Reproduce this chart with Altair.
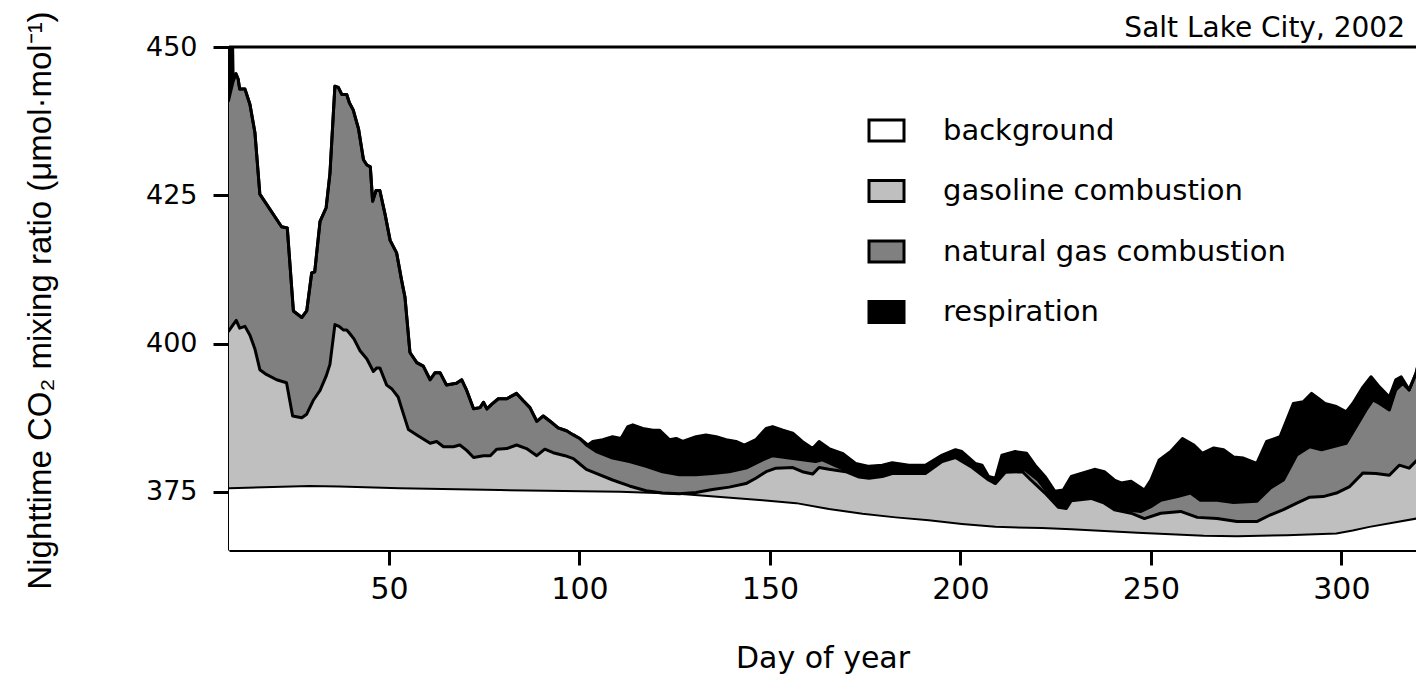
import altair as alt
import pandas as pd

# ---- data ----
series_names = ["background", "gasoline combustion", "natural gas combustion", "respiration"]
fill_colors = ["#ffffff", "#bfbfbf", "#808080", "#000000"]

bg_days = [7.8, 29.2, 37, 52.8, 79, 110.6, 126, 148.1, 156.9, 165.5, 174.3, 183, 191.7,
           200.4, 209.2, 221.4, 229.1, 246.5, 263.9, 272.6, 285.7, 298.7, 303, 307.4, 322.3]
bg_vals = [375.6, 376, 375.9, 375.6, 375.3, 375, 374.7, 373.6, 373.1, 372.1, 371.3, 370.7, 370.2,
           369.6, 369.1, 368.9, 368.7, 368.1, 367.6, 367.5, 367.7, 368, 368.5, 369.1, 370.8]

gas_days = [7.8, 9.1, 9.9, 10.8, 12.2, 13.5, 14.8, 16.1, 17.8, 20.5, 23.1, 24.7, 27.1, 28.4, 30.1,
            31.9, 33.5, 34.5, 35.8, 36.9, 38, 38.9, 39.7, 40.8, 42.4, 44.2, 45.9, 46.8, 47.6, 49.4,
            50.7, 52.4, 53.8, 55.1, 57.3, 60.8, 62.5, 64.3, 66.9, 68.6, 70.4, 72.2, 74.8, 76.6, 78.3,
            80.9, 83.5, 86.1, 88.8, 90.9, 93.1, 96.2, 98.4, 100.1, 101.8, 104.4, 108.7, 113.1, 117.5,
            121.8, 126.2, 130.6, 134.9, 139.3, 143.7, 146.3, 149, 151.6, 156, 158.5, 161.2, 162.9,
            165.5, 169.9, 173.4, 176, 179.5, 182.1, 190.8, 195.2, 198.7, 203.1, 207.4, 209.2, 211.8,
            216.3, 218.5, 222.2, 225.7, 227.8, 229.1, 234.3, 237.8, 240.4, 244.8, 248.3, 252.6, 257.8,
            262.2, 267.4, 272.6, 277.8, 281.3, 284.8, 288.3, 291.7, 295.2, 298.7, 302.2, 305.7, 309.1,
            312.6, 315.2, 317.8, 320.4, 322.3]
gas_vals = [402, 403.2, 403.9, 402.6, 402.9, 401.4, 399.1, 395.6, 394.8, 393.9, 393.4, 387.8, 387.5, 388.1, 390.4,
            392.1, 394.5, 396.5, 403.2, 402.9, 402.3, 402.3, 401.7, 400.8, 398.8, 397.4, 395.3, 395.9, 395.9, 393,
            392.4, 391, 388.1, 385.5, 384.6, 383.2, 383.5, 382.6, 382.6, 382.9, 382, 380.8, 381.1, 381.1, 382.2,
            382.3, 382.9, 382.3, 381.1, 382.2, 381.6, 381.1, 380.6, 379.7, 378.8, 378.1, 377, 376, 375.2,
            374.8, 374.7, 374.9, 375.4, 375.8, 376.4, 377.3, 378.4, 379, 379.1, 378.4, 378, 379.1,
            378.8, 378.4, 377.5, 377.3, 377.6, 378.1, 378.1, 380.1, 380.8, 379.1, 377, 376.4, 378.3,
            378.4, 377, 374.8, 372.4, 372.2, 373.5, 373.9, 373.1, 372, 371.4, 370.5, 371.4, 371.7,
            370.7, 370.5, 370, 370, 371.1, 372, 373.1, 374.1, 374.2, 374.8, 375.9, 378.2, 378.1,
            377.8, 379.5, 379, 380.7, 382.1]

ng_days = [7.8, 9.1, 9.8, 10.4, 10.8, 12.2, 13.5, 14.8, 16.1, 21.8, 23.3, 24.9, 27.1, 28.4, 29.7,
           30.5, 31.9, 33.5, 34.5, 35.8, 36.7, 37.6, 38.9, 39.6, 40.6, 42, 43.3, 44.2, 45.1, 45.7,
           46.6, 47.6, 49, 50.3, 52, 53.3, 54.2, 55.5, 57.3, 59, 60.8, 62.1, 63.4, 65.1, 67.7, 69.1,
           70.4, 72.2, 73.9, 74.8, 75.7, 77, 78.7, 80.9, 83.5, 85.2, 87, 88.8, 90.5, 92.3, 94.4, 96.6,
           98.4, 100.1, 101.8, 104.4, 108.7, 113.1, 117.5, 121.8, 126.2, 130.6, 134.9, 139.3, 143.7,
           148.1, 150.7, 155, 158.5, 162, 163.8, 167.3, 170.8, 173.4, 176, 179.5, 183, 190.8, 195.2,
           198.7, 203.1, 207.4, 209.2, 211.8, 217, 220.4, 223, 225.7, 227.8, 229.1, 234.3, 237, 239.6,
           243, 247.4, 250, 252.6, 257, 260.4, 263, 267.4, 271.7, 277.8, 281.3, 284.8, 288.3, 291.7,
           294.8, 297.8, 301.3, 303.9, 306.5, 308.3, 310, 312.6, 314.3, 316.1, 317.8, 319.6, 321.3, 322.3]
ng_vals = [440.8, 444.3, 445.5, 444.6, 442.9, 442.9, 440.3, 435.6, 425.2, 419.7, 419.5, 405.5, 404.4, 405.5, 411.9,
           412.1, 420.6, 422.9, 428.7, 443.4, 443.2, 442, 442, 440.6, 439.4, 436.2, 431, 430.1, 429.8, 424,
           425.8, 425.8, 421.7, 417.4, 415.3, 410.7, 407.8, 398.5, 396.8, 396.2, 393.9, 395.1, 395.1, 393, 393.3, 393.9,
           392.1, 389, 389.2, 390.1, 389, 389.8, 390.7, 390.7, 391.6, 390.4, 389.2, 386.9, 387.8, 386.9, 385.8, 385.3,
           384.6, 384, 382.9, 381.8, 380.7, 380.1, 379.3, 378.4, 377.9, 377.9, 378.1, 378.4, 379,
           380.4, 381.1, 380.7, 380.4, 380.1, 380.4, 379.4, 378.4, 377.7, 377.6, 377.9, 378.4, 378.4, 380.4,
           381.2, 379.5, 377.3, 376.7, 378.7, 378.7, 377, 374.8, 372.5, 372.5, 373.9, 374.2, 373.6, 372.5,
           372, 371.7, 372.5, 373.6, 374.2, 374.8, 373.6, 373.6, 373.2, 373.4, 375.6, 377, 381.2, 382.6,
           382.1, 382.6, 383.2, 386, 388.8, 390.5, 389.9, 388.8, 392.2, 393.3, 392.2, 395, 399.5, 402.9]

resp_days = [7.8, 8.3, 8.8, 9.1, 9.8, 10.4, 10.8, 12.2, 13.5, 14.8, 16.1, 21.8, 23.3, 24.9, 27.1, 28.4, 29.7,
             30.5, 31.9, 33.5, 34.5, 35.8, 36.7, 37.6, 38.9, 39.6, 40.6, 42, 43.3, 44.2, 45.1, 45.7,
             46.6, 47.6, 49, 50.3, 52, 53.3, 54.2, 55.5, 57.3, 59, 60.8, 62.1, 63.4, 65.1, 67.7, 69.1,
             70.4, 72.2, 73.9, 74.8, 75.7, 77, 78.7, 80.9, 83.5, 85.2, 87, 88.8, 90.5, 92.3, 94.4, 96.6,
             98.4, 100.1, 102.2, 103.5, 106.1, 108.7, 110.9, 112.7, 114, 116.6, 119.3, 121, 123.6, 125.4,
             127.1, 130.6, 133.2, 135.9, 138.5, 141.1, 143.3, 146.3, 149, 150.7, 153.4, 156, 158.5, 161.2,
             162.9, 165.5, 169, 172.5, 176, 179.5, 182.1, 186.5, 190.8, 195.2, 198.7, 200.4, 203.9, 205.7,
             207.4, 209.2, 210.9, 214.4, 217.4, 219.6, 222.2, 224.8, 227, 229.1, 231.7, 235.2, 237.8, 240.4,
             242.2, 244.8, 248.3, 250, 252.2, 255.2, 258.3, 261.3, 263.5, 266.5, 269.1, 271.7, 274.3, 277.8,
             280.4, 283.9, 287.4, 290, 292.2, 293.9, 295.7, 298.7, 301.3, 303, 305.7, 307.8, 310, 312.6,
             314.3, 315.7, 317.8, 319.6, 321.3, 322.3]
resp_vals = [441, 456, 456, 444.3, 445.5, 444.6, 442.9, 442.9, 440.3, 435.6, 425.2, 419.7, 419.5, 405.5, 404.4, 405.5, 411.9,
             412.1, 420.6, 422.9, 428.7, 443.4, 443.2, 442, 442, 440.6, 439.4, 436.2, 431, 430.1, 429.8, 424,
             425.8, 425.8, 421.7, 417.4, 415.3, 410.7, 407.8, 398.5, 396.8, 396.2, 393.9, 395.1, 395.1, 393, 393.3, 393.9,
             392.1, 389, 389.2, 390.1, 389, 389.8, 390.7, 390.7, 391.6, 390.4, 389.2, 386.9, 387.8, 386.9, 385.8, 385.3,
             384.6, 384, 382.9, 383.5, 383.8, 384.3, 384, 386, 386.3, 385.7, 385.4, 385.4, 383.8, 384,
             383.5, 384.3, 384.6, 384.3, 383.8, 383.5, 382.9, 383.8, 385.7, 386, 385.4, 384.9, 383.5, 382.3,
             383.5, 382.3, 381.5, 379.8, 379.3, 379.5, 379.9, 379.5, 379.5, 381.2, 382.1, 381.8, 379.8, 379.5,
             377.6, 377.3, 381.2, 381.8, 381.5, 379.5, 377.6, 375.1, 375.3, 377.6, 378.1, 378.8, 378.4, 377,
             376.5, 376.8, 375.3, 377, 380.4, 381.8, 384, 382.9, 381.5, 382.4, 382.1, 380.9, 380.7, 379.8,
             383.5, 384.3, 389.9, 390.2, 391.6, 390.8, 389.9, 389.4, 388.5, 389.9, 392.7, 394.4, 392.7, 391,
             393.9, 394.4, 392.2, 395, 399.5, 402.9]

x_ticks = [50, 100, 150, 200, 250, 300]
y_ticks = [375, 400, 425, 450]
x_domain = [8, 319.6]
y_domain = [365.2, 450]

# ---- build long table ----
frames = []
for name, d, v in zip(series_names,
                      [bg_days, gas_days, ng_days, resp_days],
                      [bg_vals, gas_vals, ng_vals, resp_vals]):
    frames.append(pd.DataFrame({"series": name, "day": d, "co2": v}))
df = pd.concat(frames, ignore_index=True)

color = alt.Color(
    "series:N",
    scale=alt.Scale(domain=series_names, range=fill_colors),
    legend=alt.Legend(
        title=None, orient="none", legendX=643, legendY=69, padding=0,
        symbolType="M-1.667,-1H1.667V1H-1.667Z", symbolSize=441,
        symbolStrokeColor="black", symbolStrokeWidth=3, symbolOpacity=1,
        labelFont="DejaVu Sans", labelFontSize=29, labelColor="black",
        labelOffset=42, rowPadding=27.5, labelLimit=600,
    ),
)

x_enc = alt.X(
    "day:Q", scale=alt.Scale(domain=x_domain, nice=False, zero=False),
    axis=alt.Axis(
        values=x_ticks, title="Day of year", grid=False,
        domainColor="black", domainWidth=3, tickColor="black", tickWidth=3, tickSize=15,
        labelFont="DejaVu Sans", labelFontSize=30, labelColor="black", labelPadding=9,
        titleFont="DejaVu Sans", titleFontSize=30, titleFontWeight="normal", titleColor="black",
        titleY=117, titleBaseline="alphabetic", labelFlush=False,
    ),
)
y_axis = alt.Axis(
    values=y_ticks, title="Nighttime CO₂ mixing ratio (μmol·mol⁻¹)", grid=False,
    domainColor="black", domainWidth=3, tickColor="black", tickWidth=3, tickSize=16,
    labelFont="DejaVu Sans", labelFontSize=27, labelColor="black", labelPadding=16,
    labelBaseline="middle",
    titleFont="Liberation Sans", titleFontSize=33, titleFontWeight="normal", titleColor="black",
    titleAngle=270, titleX=-179, titleY=253, titleAlign="center", titleBaseline="alphabetic",
)
y_scale = alt.Scale(domain=y_domain, nice=False, zero=False)

base = alt.Chart(df)

layers = []
for name in ["respiration", "natural gas combustion", "gasoline combustion", "background"]:
    layers.append(
        base.transform_filter(alt.datum.series == name)
        .mark_area(clip=True, opacity=1, interpolate="linear")
        .encode(x=x_enc, y=alt.Y("co2:Q", scale=y_scale, axis=y_axis), y2=alt.datum(360), color=color)
    )

lines = base.transform_filter(alt.datum.series != "background").mark_line(
    clip=True, color="black", strokeWidth=3, strokeJoin="round"
).encode(x=alt.X("day:Q"), y=alt.Y("co2:Q"), detail="series:N")

bg_line = base.transform_filter(alt.datum.series == "background").mark_line(
    clip=True, color="black", strokeWidth=2
).encode(x=alt.X("day:Q"), y=alt.Y("co2:Q"))

top_rule = alt.Chart(pd.DataFrame({"v": [450]})).mark_rule(color="black", strokeWidth=3).encode(
    y=alt.Y("v:Q")
)

chart = alt.layer(*layers, lines, bg_line, top_rule).properties(
    width=1187, height=503,
    padding={"left": 221, "top": 39, "right": 0, "bottom": 126},
    autosize=alt.AutoSizeParams(type="none"),
    title=alt.TitleParams(
        "Salt Lake City, 2002", anchor="end", font="DejaVu Sans", fontSize=28,
        fontWeight="normal", color="black", baseline="alphabetic", offset=12, dx=-11, dy=66,
        frame="group",
    ),
).configure_view(strokeWidth=0)

chart.save("out.html", embed_options={"renderer": "svg", "actions": False})
